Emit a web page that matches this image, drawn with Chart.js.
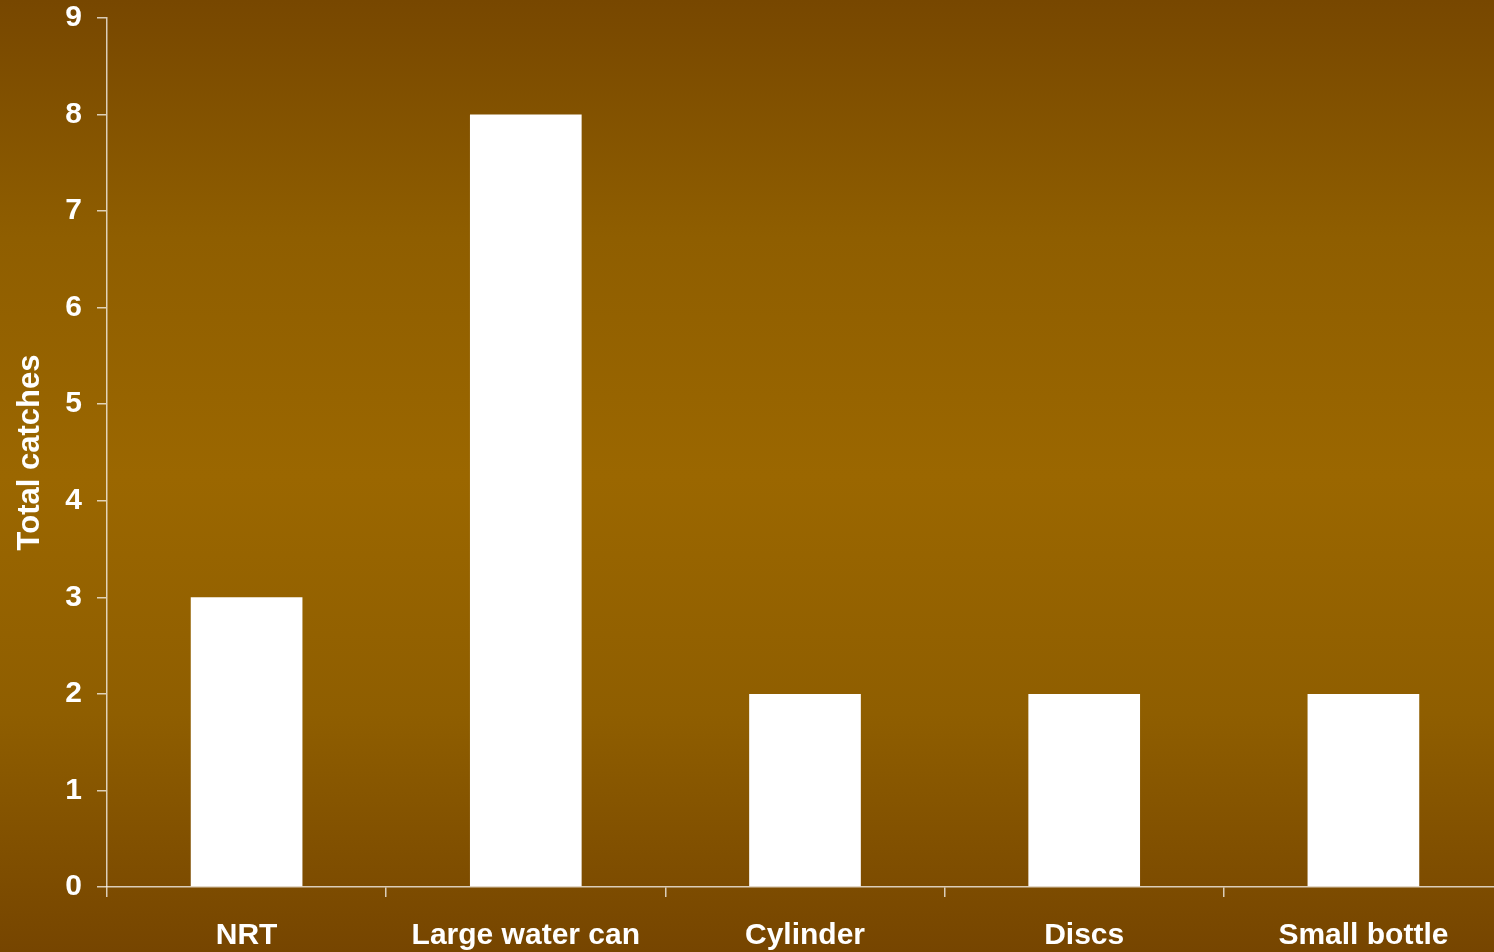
<!DOCTYPE html>
<html>
<head>
<meta charset="utf-8">
<script src="https://cdn.jsdelivr.net/npm/chart.js@4"></script>
<style>
  html, body {
    margin: 0;
    padding: 0;
    width: 1494px;
    height: 952px;
    overflow: hidden;
    background: linear-gradient(to bottom, #774700 0%, #8f5e00 25%, #9b6700 50%, #8f5e00 75%, #764500 100%);
  }
  canvas { display: block; }
</style>
</head>
<body>
<canvas id="myChart" width="1503" height="952"></canvas>
<script>
const ctx = document.getElementById('myChart');

// data
var categories = ['NRT', 'Large water can', 'Cylinder', 'Discs', 'Small bottle'];
var catches = [3, 8, 2, 2, 2];
var yTitle = 'Total catches';
var yMin = 0;
var yMax = 9;
var yStep = 1;

var axisColor = 'rgba(255, 255, 255, 0.72)';
var fontFamily = '"Liberation Sans", Arial, sans-serif';

var config = {
  type: 'bar',
  data: {
    labels: categories,
    datasets: [{
      label: yTitle,
      data: catches,
      backgroundColor: '#ffffff',
      borderWidth: 0,
      barPercentage: 0.4,
      categoryPercentage: 1.0
    }]
  },
  options: {
    responsive: false,
    animation: false,
    layout: { padding: { top: 18, left: 0, right: 0, bottom: 0 } },
    plugins: {
      legend: { display: false },
      tooltip: { enabled: false }
    },
    scales: {
      x: {
        grid: {
          drawOnChartArea: false,
          color: axisColor,
          tickLength: 10,
          lineWidth: 1.5
        },
        border: { color: axisColor, width: 1.5 },
        ticks: {
          color: '#ffffff',
          font: { family: fontFamily, size: 30, weight: 'bold' },
          padding: 21,
          maxRotation: 0,
          autoSkip: false
        },
        afterFit: function (scale) { scale.height = 65; }
      },
      y: {
        min: yMin,
        max: yMax,
        grid: {
          drawOnChartArea: false,
          color: axisColor,
          tickLength: 10,
          lineWidth: 1.5
        },
        border: { color: axisColor, width: 1.5 },
        ticks: {
          stepSize: yStep,
          color: '#ffffff',
          // small lineHeight keeps the top label from pushing the plot down
          font: { family: fontFamily, size: 30, weight: 'bold', lineHeight: 0.1 },
          padding: 15
        },
        title: {
          display: true,
          text: yTitle,
          color: '#ffffff',
          font: { family: fontFamily, size: 31, weight: 'bold' },
          padding: { top: 12, bottom: 0 }
        },
        afterFit: function (scale) { scale.width = 107; }
      }
    }
  }
};

var chart = new Chart(ctx, config);
</script>
</body>
</html>
